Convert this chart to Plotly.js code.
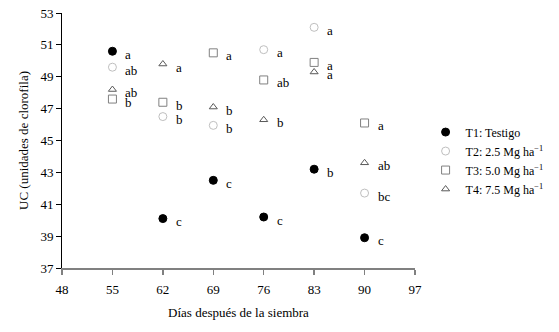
<!DOCTYPE html>
<html><head><meta charset="utf-8">
<script src="https://cdn.plot.ly/plotly-3.0.1.min.js"></script>
<style>body{margin:0;background:#fff}#c{width:559px;height:332px}</style>
</head><body><div id="c"></div>
<script>
const days = [55, 62, 69, 76, 83, 90];
const seriesNames = ["T1: Testigo", "T2: 2.5 Mg ha<sup>−1</sup>", "T3: 5.0 Mg ha<sup>−1</sup>", "T4: 7.5 Mg ha<sup>−1</sup>"];
const t1 = [50.6, 40.1, 42.5, 40.2, 43.2, 38.9];
const t2 = [49.6, 46.5, 45.95, 50.7, 52.1, 41.7];
const t3 = [47.6, 47.4, 50.5, 48.8, 49.9, 46.1];
const t4 = [48.2, 49.8, 47.1, 46.3, 49.3, 43.6];
const t1Letters = ["a", "c", "c", "c", "b", "c"];
const t2Letters = ["ab", "b", "b", "a", "a", "bc"];
const t3Letters = ["b", "b", "a", "ab", "a", "a"];
const t4Letters = ["ab", "a", "b", "b", "a", "ab"];
const xTicks = [48, 55, 62, 69, 76, 83, 90, 97];
const yTicks = [37, 39, 41, 43, 45, 47, 49, 51, 53];

const font = "Liberation Serif, Times New Roman, serif";
const vals = [t1, t2, t3, t4];
const letters = [t1Letters, t2Letters, t3Letters, t4Letters];
const markers = [
  {symbol: "circle", size: 8, color: "#000", line: {color: "#000", width: 1}},
  {symbol: "circle-open", size: 8, color: "#bfbfbf", line: {width: 1}},
  {symbol: "square-open", size: 8, color: "#808080", line: {width: 1}},
  {symbol: "triangle-up-open", size: 7, color: "#595959", line: {width: 1}}
];
const traces = vals.map((v, i) => ({
  x: days, y: v, type: "scatter", mode: "markers", name: seriesNames[i],
  marker: markers[i], cliponaxis: false
}));
const annotations = [];
vals.forEach((v, i) => {
  v.forEach((y, j) => {
    annotations.push({x: days[j], y: y, xref: "x", yref: "y", text: letters[i][j],
      showarrow: false, xanchor: "left", yanchor: "middle", xshift: 11, yshift: -3,
      font: {family: font, size: 13, color: "#000"}});
  });
});
Plotly.newPlot("c", traces, {
  width: 559, height: 332,
  margin: {l: 62, r: 144, t: 13, b: 64, autoexpand: false},
  paper_bgcolor: "#fff", plot_bgcolor: "#fff",
  font: {family: font, size: 13, color: "#000"},
  showlegend: true,
  legend: {x: 1.03, y: 0.59, xanchor: "left", yanchor: "top", font: {family: font, size: 12, color: "#000"},
    itemwidth: 30, tracegroupgap: 0, bgcolor: "rgba(0,0,0,0)"},
  xaxis: {range: [48, 97], tickvals: xTicks, ticktext: xTicks.map(String), showgrid: false, zeroline: false,
    showline: true, linecolor: "#808080", linewidth: 2, ticks: "outside", tickcolor: "#808080", ticklen: 5, tickwidth: 1.5,
    tickfont: {family: font, size: 13}, ticklabelstandoff: 3, automargin: false,
    title: {text: "Días después de la siembra", font: {family: font, size: 13}, standoff: 12}},
  yaxis: {range: [37, 53], tickvals: yTicks, ticktext: yTicks.map(String), showgrid: false, zeroline: false,
    showline: true, linecolor: "#000", linewidth: 1, ticks: "outside", tickcolor: "#000", ticklen: 5,
    tickfont: {family: font, size: 13}, automargin: false,
    title: {text: "UC (unidades de clorofila)", font: {family: font, size: 13}, standoff: 8}},
  annotations: annotations
}, {staticPlot: true});
</script></body></html>
